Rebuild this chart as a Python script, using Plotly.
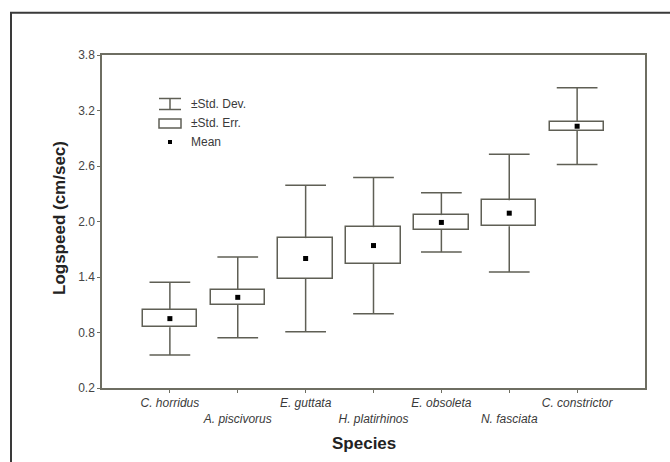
import plotly.graph_objects as go

species = ["C. horridus", "A. piscivorus", "E. guttata", "H. platirhinos",
           "E. obsoleta", "N. fasciata", "C. constrictor"]
mean = [0.95, 1.18, 1.60, 1.74, 1.99, 2.09, 3.03]
std_err = [0.092, 0.079, 0.22, 0.199, 0.079, 0.14, 0.05]
std_dev = [0.393, 0.436, 0.791, 0.737, 0.321, 0.636, 0.415]
y_ticks = [0.2, 0.8, 1.4, 2.0, 2.6, 3.2, 3.8]

LINE = "#5f5f55"
W, H = 670, 462
L, R, T, B = 102, 25, 55, 74
PW, PH = W - L - R, H - T - B

def px(x):
    return (x - L) / PW

def py(y):
    return (H - B - y) / PH

idx = list(range(len(species)))
cap = 0.3

wx, wy = [], []
for i, m, se, sd in zip(idx, mean, std_err, std_dev):
    for sgn in (1, -1):
        wx += [i, i, None, i - cap, i + cap, None]
        wy += [m + sgn * se, m + sgn * sd, None, m + sgn * sd, m + sgn * sd, None]

fig = go.Figure()
fig.add_trace(go.Bar(
    x=idx, y=[2 * s for s in std_err], base=[m - s for m, s in zip(mean, std_err)],
    width=0.8, marker=dict(color="white", line=dict(color=LINE, width=1.5)),
    showlegend=False, hoverinfo="skip"))
fig.add_trace(go.Scatter(x=wx, y=wy, mode="lines", line=dict(color=LINE, width=1.5),
                         showlegend=False, hoverinfo="skip"))
fig.add_trace(go.Scatter(x=idx, y=mean, mode="markers",
                         marker=dict(symbol="square", size=5, color="black"),
                         showlegend=False))

ticktext = [s if i % 2 == 0 else "<br>" + s for i, s in enumerate(species)]

fig.update_layout(
    width=W, height=H, margin=dict(l=L, r=R, t=T, b=B),
    paper_bgcolor="white", plot_bgcolor="white",
    font=dict(family="Liberation Sans, Arial, sans-serif", size=12, color="#3a3a3a"),
    xaxis=dict(range=[-1, 7], tickvals=idx, ticktext=ticktext,
               tickfont=dict(style="italic", size=12, color="#3a3a3a"),
               showgrid=False, zeroline=False, showline=True, mirror=True,
               linecolor="#6e6e62", linewidth=1.5, ticks="outside", ticklen=3,
               tickcolor="#6e6e62"),
    yaxis=dict(range=[0.2, 3.8], tickvals=y_ticks, tickformat=".1f",
               tickfont=dict(size=12, color="#444"),
               showgrid=False, zeroline=False, showline=True, mirror=True,
               linecolor="#6e6e62", linewidth=1.5, ticks="outside", ticklen=3,
               tickcolor="#6e6e62"),
    bargap=0, barmode="overlay",
)

shapes = [
    dict(type="rect", xref="paper", yref="paper", x0=px(11), x1=px(680),
         y0=py(475), y1=py(12.7), line=dict(color="#3a3a3a", width=2)),
    # legend icons
    dict(type="line", xref="paper", yref="paper", x0=px(159), x1=px(181), y0=py(98.5), y1=py(98.5), line=dict(color=LINE, width=1.5)),
    dict(type="line", xref="paper", yref="paper", x0=px(159), x1=px(181), y0=py(109.5), y1=py(109.5), line=dict(color=LINE, width=1.5)),
    dict(type="line", xref="paper", yref="paper", x0=px(170), x1=px(170), y0=py(98.5), y1=py(109.5), line=dict(color=LINE, width=1.5)),
    dict(type="rect", xref="paper", yref="paper", x0=px(159), x1=px(181), y0=py(128), y1=py(119), line=dict(color=LINE, width=1.5)),
    dict(type="rect", xref="paper", yref="paper", x0=px(168), x1=px(172), y0=py(144), y1=py(140), line=dict(width=0), fillcolor="black"),
]
fig.update_layout(shapes=shapes)

annotations = [
    dict(text="±Std. Dev.", x=px(189), y=py(104), xanchor="left", yanchor="middle"),
    dict(text="±Std. Err.", x=px(189), y=py(123.5), xanchor="left", yanchor="middle"),
    dict(text="Mean", x=px(189), y=py(142), xanchor="left", yanchor="middle"),
    dict(text="<b>Logspeed (cm/sec)</b>", x=px(59), y=py(218), textangle=-90,
         xanchor="center", yanchor="middle", font=dict(size=17, color="#222")),
    dict(text="<b>Species</b>", x=px(364), y=py(443), xanchor="center", yanchor="middle",
         font=dict(size=17, color="#222")),
]
for a in annotations:
    a.update(xref="paper", yref="paper", showarrow=False)
    a.setdefault("font", dict(size=12, color="#3a3a3a"))
fig.update_layout(annotations=annotations)

fig.write_html("out.html")
